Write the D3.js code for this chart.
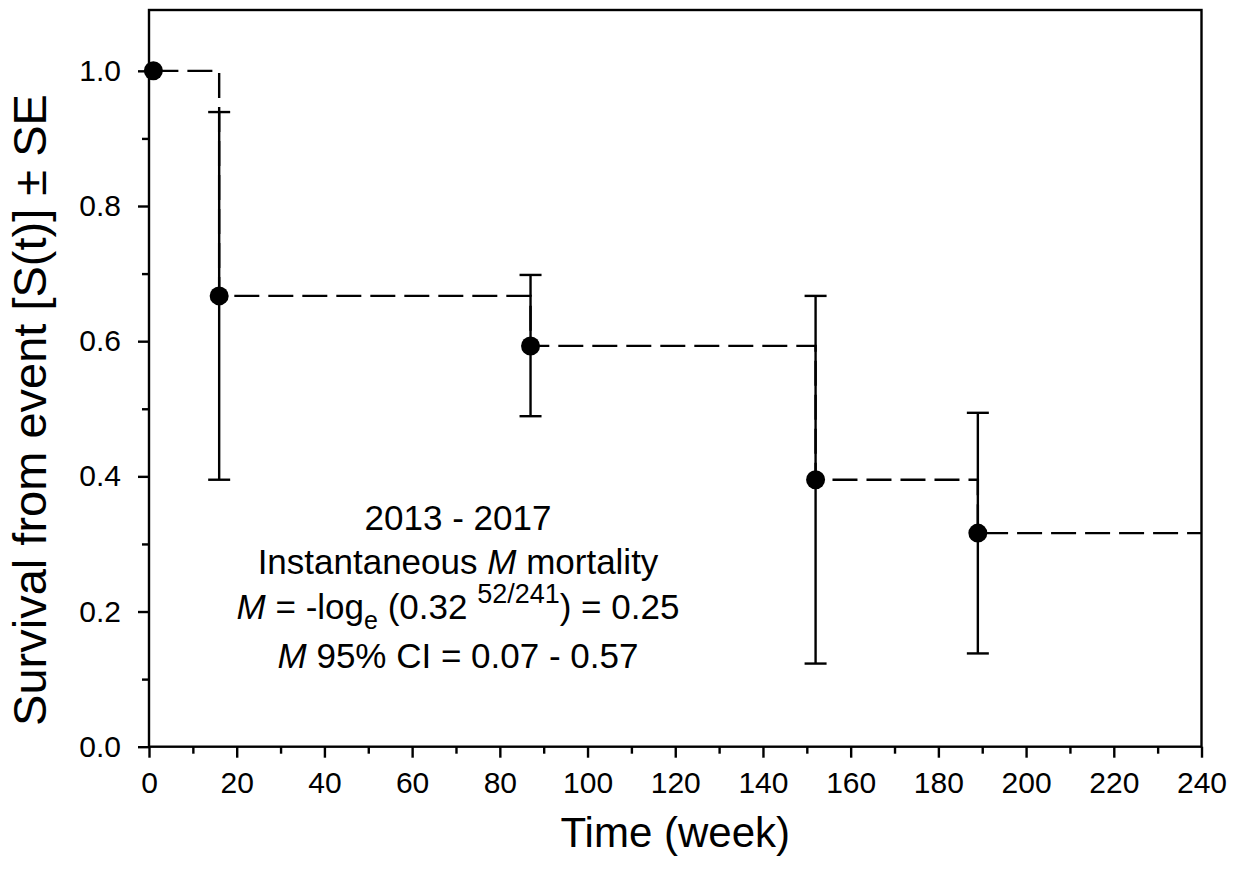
<!DOCTYPE html>
<html>
<head>
<meta charset="utf-8">
<script src="https://cdn.jsdelivr.net/npm/d3@7"></script>
<style>
  html, body { margin: 0; padding: 0; background: #fff; }
  svg { display: block; font-family: "Liberation Sans", Arial, sans-serif; }
</style>
</head>
<body>
<svg id="chart" width="1243" height="882"></svg>
<script>
// Kaplan-Meier survival estimates (weeks since event)
const weeks = [1, 16, 87, 152, 189];
const survival = [1.0, 0.667, 0.593, 0.395, 0.316];
const seLower = [null, 0.395, 0.489, 0.123, 0.138];
const seUpper = [null, 0.939, 0.698, 0.667, 0.494];
const lastWeek = 240;

const xTickValues = [0, 20, 40, 60, 80, 100, 120, 140, 160, 180, 200, 220, 240];
const xMinorValues = [10, 30, 50, 70, 90, 110, 130, 150, 170, 190, 210, 230];
const yTickValues = [0.0, 0.2, 0.4, 0.6, 0.8, 1.0];
const yMinorValues = [0.1, 0.3, 0.5, 0.7, 0.9];

const svg = d3.select("#chart");
const plotLeft = 149, plotRight = 1201.5, plotTop = 10, plotBottom = 746.7;
const lw = 2.4;

const x = d3.scaleLinear().domain([0, 240]).range([plotLeft, plotRight]);
const y = d3.scaleLinear().domain([0, 1.09]).range([plotBottom, plotTop]);

// axes: major ticks with labels, minor ticks without
const gx = svg.append("g").attr("transform", `translate(0,${plotBottom})`)
  .call(d3.axisBottom(x).tickValues(xTickValues).tickSize(11).tickSizeOuter(0).tickPadding(14)
    .tickFormat(d3.format("d")));
const gxm = svg.append("g").attr("transform", `translate(0,${plotBottom})`)
  .call(d3.axisBottom(x).tickValues(xMinorValues).tickSize(7).tickSizeOuter(0).tickFormat(""));
const gy = svg.append("g").attr("transform", `translate(${plotLeft},0)`)
  .call(d3.axisLeft(y).tickValues(yTickValues).tickSize(11).tickSizeOuter(0).tickPadding(17)
    .tickFormat(d3.format(".1f")));
const gym = svg.append("g").attr("transform", `translate(${plotLeft},0)`)
  .call(d3.axisLeft(y).tickValues(yMinorValues).tickSize(7).tickSizeOuter(0).tickFormat(""));

[gx, gxm, gy, gym].forEach(g => {
  g.select(".domain").remove();
  g.selectAll("line").attr("stroke", "#000").attr("stroke-width", lw);
  g.selectAll("text").attr("fill", "#000").attr("font-size", 30)
    .attr("font-family", "Liberation Sans, Arial, sans-serif");
});

// plot frame
svg.append("rect")
  .attr("x", plotLeft).attr("y", plotTop)
  .attr("width", plotRight - plotLeft).attr("height", plotBottom - plotTop)
  .attr("fill", "none").attr("stroke", "#000").attr("stroke-width", lw);

// dashed survival step function
const stepPts = weeks.map((w, i) => [w, survival[i]]);
stepPts.push([lastWeek, survival[survival.length - 1]]);
svg.append("path")
  .attr("d", d3.line().x(d => x(d[0])).y(d => y(d[1])).curve(d3.curveStepAfter)(stepPts))
  .attr("fill", "none").attr("stroke", "#000").attr("stroke-width", lw)
  .attr("stroke-dasharray", "25,9");

// standard error bars
const capHalf = 11;
const bars = svg.append("g").attr("stroke", "#000").attr("stroke-width", lw);
weeks.forEach((w, i) => {
  if (seLower[i] == null) return;
  const cx = x(w);
  bars.append("line").attr("x1", cx).attr("x2", cx).attr("y1", y(seLower[i])).attr("y2", y(seUpper[i]));
  bars.append("line").attr("x1", cx - capHalf).attr("x2", cx + capHalf).attr("y1", y(seLower[i])).attr("y2", y(seLower[i]));
  bars.append("line").attr("x1", cx - capHalf).attr("x2", cx + capHalf).attr("y1", y(seUpper[i])).attr("y2", y(seUpper[i]));
});

// point markers
svg.append("g").selectAll("circle").data(weeks).join("circle")
  .attr("cx", d => x(d)).attr("cy", (d, i) => y(survival[i])).attr("r", 9.5).attr("fill", "#000");

// axis titles
svg.append("text").attr("x", (plotLeft + plotRight) / 2).attr("y", 847)
  .attr("text-anchor", "middle").attr("font-size", 42).text("Time (week)");
svg.append("text").attr("transform", "translate(46,410) rotate(-90)")
  .attr("text-anchor", "middle").attr("font-size", 47).text("Survival from event [S(t)] \u00B1 SE");

// mortality annotation
const noteX = 458;
const note = svg.append("g").attr("font-size", 35).attr("text-anchor", "middle");
note.append("text").attr("x", noteX).attr("y", 530).text("2013 - 2017");
const l2 = note.append("text").attr("x", noteX).attr("y", 574);
l2.append("tspan").text("Instantaneous ");
l2.append("tspan").attr("font-style", "italic").text("M");
l2.append("tspan").text(" mortality");
const l3 = note.append("text").attr("x", noteX).attr("y", 619);
l3.append("tspan").attr("font-style", "italic").text("M");
l3.append("tspan").text(" = -log");
l3.append("tspan").attr("font-size", 25).attr("dy", 10).text("e");
l3.append("tspan").attr("dy", -10).text(" (0.32 ");
l3.append("tspan").attr("font-size", 27).attr("dy", -16).text("52/241");
l3.append("tspan").attr("dy", 16).text(") = 0.25");
const l4 = note.append("text").attr("x", noteX).attr("y", 668);
l4.append("tspan").attr("font-style", "italic").text("M");
l4.append("tspan").text(" 95% CI = 0.07 - 0.57");
</script>
</body>
</html>
